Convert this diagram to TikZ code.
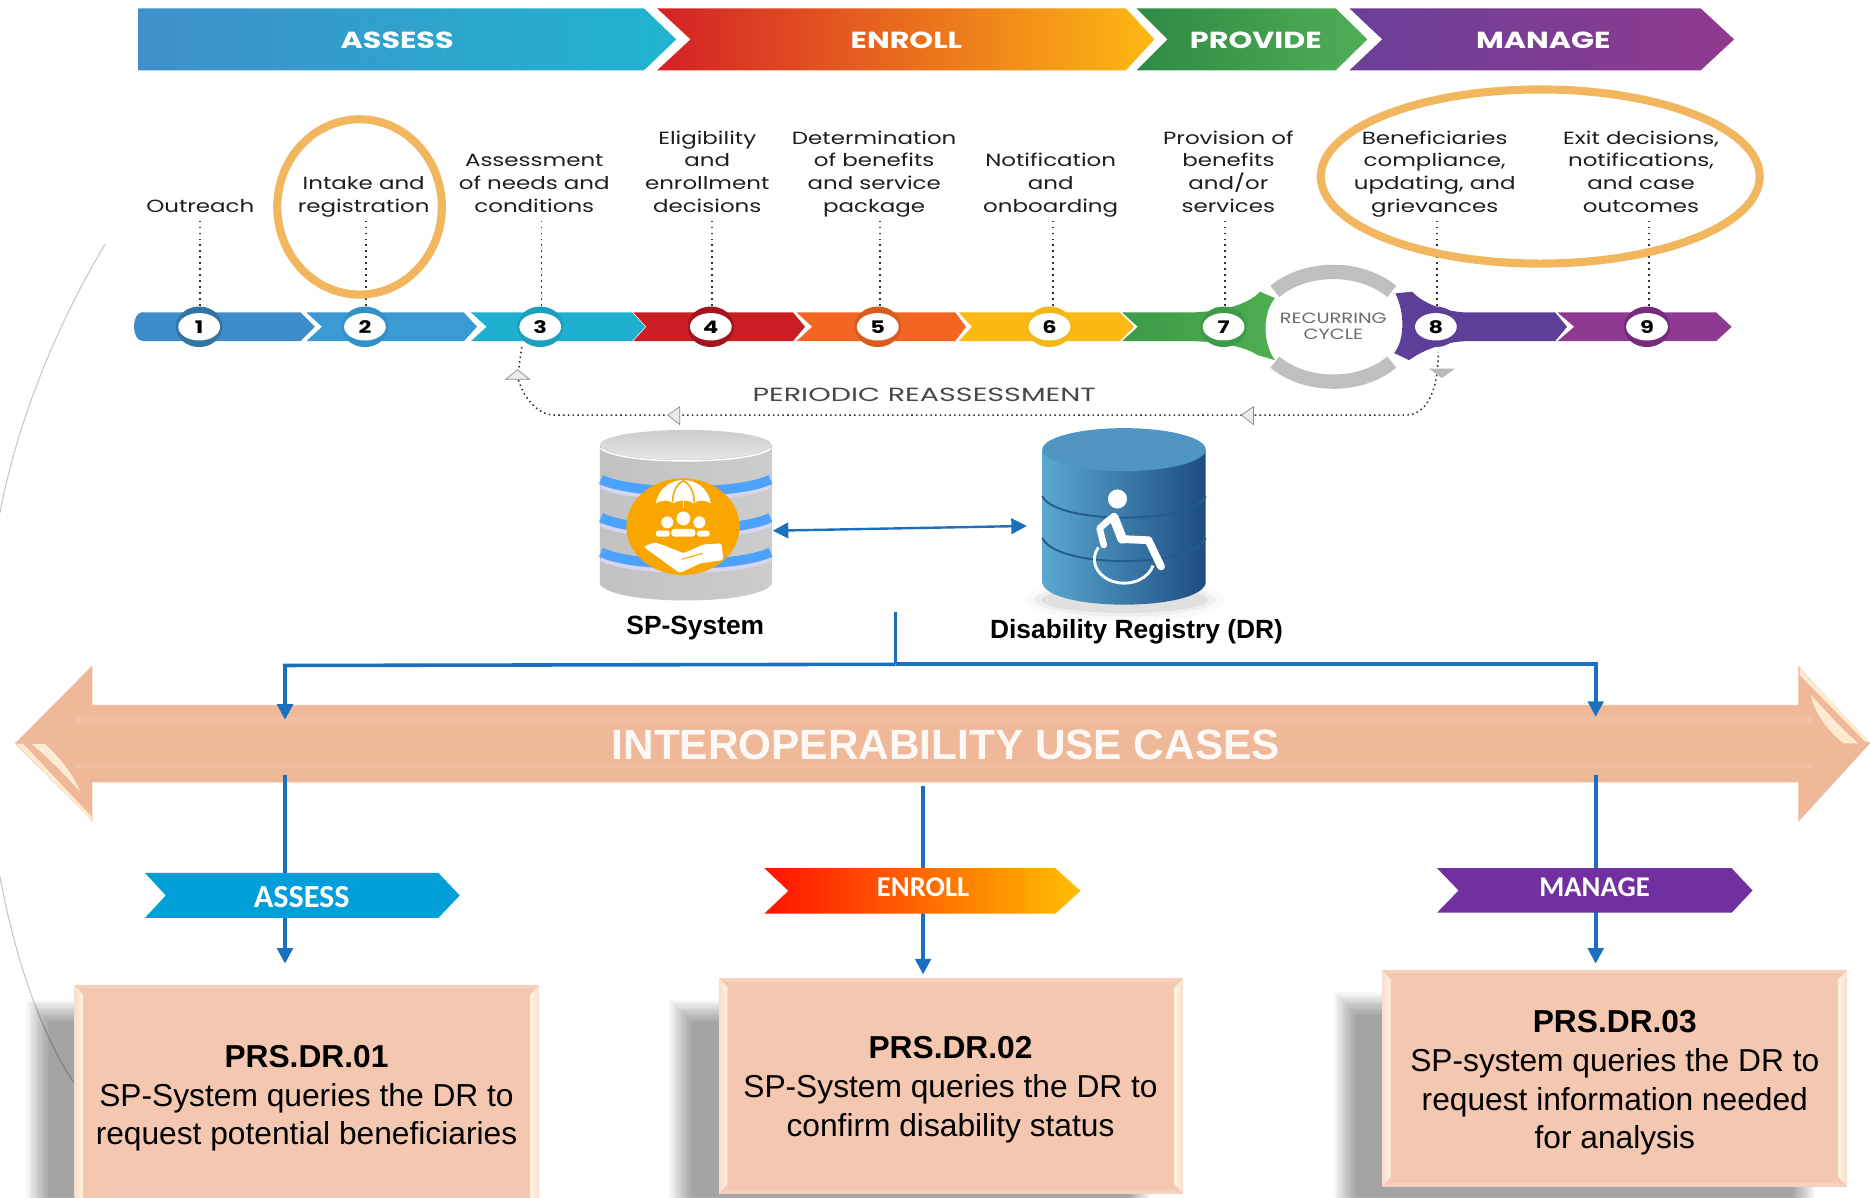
\documentclass[tikz,border=0pt]{standalone}
\usepackage{fontspec}
\setmainfont{Liberation Sans}
\newfontfamily\popw[FakeStretch=1.3]{Poppins}
\newfontfamily\popx[FakeStretch=1.5]{Poppins}
\newfontfamily\car{Carlito}
\usetikzlibrary{shapes.geometric,arrows.meta,calc}
\definecolor{flowblue}{HTML}{1A6FBF}
\definecolor{ringor}{HTML}{F2B65F}
\definecolor{salmon}{HTML}{EFB899}
\definecolor{boxfill}{HTML}{F3C7B0}
\definecolor{seglab}{HTML}{1E1E1E}
\definecolor{cream}{HTML}{FFF3DC}
\definecolor{aL}{HTML}{3F8FCB}\definecolor{aR}{HTML}{1FB5CF}
\definecolor{eL}{HTML}{D42027}\definecolor{eM}{HTML}{F0652A}\definecolor{eR}{HTML}{FDB913}
\definecolor{pL}{HTML}{2F8A45}\definecolor{pR}{HTML}{50AE55}
\definecolor{mL}{HTML}{6B3F97}\definecolor{mR}{HTML}{8F3A8F}
\definecolor{s1}{HTML}{3F8CCA}\definecolor{s2}{HTML}{3A9BD4}\definecolor{s3}{HTML}{1FB0CF}
\definecolor{s4}{HTML}{CC1F24}\definecolor{s5}{HTML}{F26522}\definecolor{s6}{HTML}{FDB913}
\definecolor{s7L}{HTML}{3D9A47}\definecolor{s7R}{HTML}{4FAE50}
\definecolor{s8}{HTML}{5D3F97}\definecolor{s9}{HTML}{8E3A92}
\definecolor{r1}{HTML}{33759F}\definecolor{r2}{HTML}{3290C8}\definecolor{r3}{HTML}{1CA0BF}
\definecolor{r4}{HTML}{A3141E}\definecolor{r5}{HTML}{D95C1F}\definecolor{r6}{HTML}{F2B818}
\definecolor{r7}{HTML}{3D9A47}\definecolor{r8}{HTML}{5D3F97}\definecolor{r9}{HTML}{752C7B}
\definecolor{spband}{HTML}{4BA3FF}\definecolor{spor}{HTML}{F9A600}\definecolor{splav}{HTML}{D6D6F2}
\definecolor{drL}{HTML}{5AA8D1}\definecolor{drM}{HTML}{3878AD}\definecolor{drR}{HTML}{1C4D80}
\definecolor{drT}{HTML}{4F94C2}\definecolor{drLine}{HTML}{245C8C}
\definecolor{tagA}{HTML}{009FD9}\definecolor{tagM}{HTML}{7030A0}
\definecolor{tE1}{HTML}{FF1200}\definecolor{tE2}{HTML}{FF6600}\definecolor{tE3}{HTML}{FFC000}
\tikzset{
 phase/.style={font=\popw\bfseries\fontsize{19.5}{22}\selectfont,text=white,inner sep=0pt},
 steplab/.style={font=\popw\fontsize{14.8}{19}\selectfont,text=seglab,align=center,inner sep=0pt,anchor=south,execute at end node={\vphantom{g}}},
 dotline/.style={line width=1.5pt,dash pattern=on 1.5pt off 3.5pt,draw=black!80},
 ringout/.style={ellipse,minimum width=39pt,minimum height=34pt,inner sep=0pt},
 ringin/.style={ellipse,fill=white,minimum width=35pt,minimum height=23pt,inner sep=0pt,font=\popw\bfseries\fontsize{14.5}{16}\selectfont},
 emph/.style={draw=ringor,line width=6.8pt},
 flow/.style={draw=flowblue,line width=3pt},
 flowtip/.style={-{Triangle[length=13pt,width=13pt]},flow},
 tagtext/.style={font=\car\bfseries\fontsize{24}{26}\selectfont,text=white,inner sep=0pt},
 caseb/.style={font=\fontsize{26.6}{32.5}\selectfont,align=center,inner sep=0pt,text=black},
 minihead/.style={draw=black!45,fill=black!8,line width=.6pt},
 dblabel/.style={font=\bfseries\fontsize{22.1}{24}\selectfont,inner sep=0pt},
}
\newcommand{\chevp}[7]{% opts x0 xn xc xt ytop ybot
 \path[#1] (#2,#6) -- (#4,#6) -- (#5,{(#6+#7)/2}) -- (#4,#7) -- (#2,#7) -- (#3,{(#6+#7)/2}) -- cycle;}
\newcommand{\softshadow}[4]{% x1 y1 x2 y2
 \foreach \k in {0,...,19}{\fill[black,opacity=.0178] ({#1+\k},{#2+\k}) rectangle ({#3-\k},{#4-\k});}}
\newcommand{\bevelbox}[4]{% x1 y1 x2 y2
 \fill[boxfill] (#1,#2) rectangle (#3,#4);
 \fill[boxfill!80!white] (#1,#2) -- (#3,#2) -- ({#3-7},{#2+3}) -- ({#1+7},{#2+3}) -- cycle;
 \shade[left color=boxfill!60!white,right color=cream] (#1,#2) -- ({#1+7},{#2+8}) -- ({#1+7},{#4-8}) -- (#1,#4) -- cycle;
 \shade[right color=boxfill!60!white,left color=cream] (#3,#2) -- ({#3-7},{#2+8}) -- ({#3-7},{#4-8}) -- (#3,#4) -- cycle;
 \fill[boxfill!80!white] (#1,#4) -- (#3,#4) -- ({#3-7},{#4-3}) -- ({#1+7},{#4-3}) -- cycle;}
\begin{document}
\begin{tikzpicture}[x=1pt,y=-1pt]
\useasboundingbox (0,0) rectangle (1568,1003.7);
\fill[white] (0,0) rectangle (1568,1003.7);
% thin background arc
\draw[black!22,line width=.9pt] (88,205) .. controls (50,268) and (15,350) .. (0,430);
\draw[black!22,line width=.9pt] (0,735) .. controls (10,790) and (30,860) .. (62,908);
% top phases
\chevp{shade,left color=aL,right color=aR}{116}{116}{540}{567}{7}{59}
\chevp{shade,left color=eL,middle color=eM,right color=eR}{551}{579}{944}{968}{7}{59}
\chevp{shade,left color=pL,right color=pR}{953}{979}{1120}{1146.5}{7}{59}
\chevp{shade,left color=mL,right color=mR}{1131.5}{1159}{1426}{1454}{7}{59}
\node[phase] (pA) at (333,33.5) {ASSESS};
\node[phase] (pE) at (760,33.5) {ENROLL};
\node[phase] (pP) at (1053,33.5) {PROVIDE};
\node[phase] (pM) at (1294,33.5) {MANAGE};
% step labels
\node[steplab] (l1) at (168,182) {Outreach};
\node[steplab] (l2) at (305,182) {Intake and\\registration};
\node[steplab] (l3) at (448,182) {Assessment\\of needs and\\conditions};
\node[steplab] (l4) at (593,182) {Eligibility\\and\\enrollment\\decisions};
\node[steplab] (l5) at (733,182) {Determination\\of benefits\\and service\\package};
\node[steplab] (l6) at (881,182) {Notification\\and\\onboarding};
\node[steplab] (l7) at (1030,182) {Provision of\\benefits\\and/or\\services};
\node[steplab] (l8) at (1203,182) {Beneficiaries\\compliance,\\updating, and\\grievances};
\node[steplab] (l9) at (1376,182) {Exit decisions,\\notifications,\\and case\\outcomes};
% recurring cycle arcs
\draw[black!25,line width=12pt] ($(1118,274)+(40:64pt and 46pt)$) arc[start angle=40,end angle=140,x radius=64pt,y radius=46pt];
\draw[black!25,line width=12pt] ($(1118,274)+(220:64pt and 46pt)$) arc[start angle=220,end angle=320,x radius=64pt,y radius=46pt];
% process segments
\chevp{fill=s1}{120}{120}{252}{264}{262}{286}
\fill[s1] (120,262) .. controls (110,262) and (110,286) .. (120,286) -- cycle;
\chevp{fill=s2}{257}{270}{389}{400}{262}{286}
\chevp{fill=s3}{395}{408}{530}{541}{262}{286}
\chevp{fill=s4}{531}{542}{665}{675}{262}{286}
\chevp{fill=s5}{668}{681}{801}{810}{262}{286}
\chevp{fill=s6}{804}{815}{939}{951}{262}{286}
\shade[left color=s7L,right color=s7R]
 (941,262) -- (995,262) .. controls (1022,262) and (1046,256) .. (1056.5,244.6) -- (1069,250)
 .. controls (1059,262) and (1058,286) .. (1069,302) -- (1054,297.6)
 .. controls (1045,291) and (1022,286) .. (995,286) -- (941,286) -- (954,274) -- cycle;
\fill[s8] (1170,246) -- (1184,244.6) .. controls (1195,256) and (1215,262) .. (1231.5,262)
 -- (1304,262) -- (1314,274) -- (1304,286) -- (1231.5,286) .. controls (1215,286) and (1195,292) .. (1181.5,302)
 -- (1169,296) .. controls (1178,285) and (1178,262) .. (1170,246) -- cycle;
\chevp{fill=s9}{1306}{1320}{1439}{1452}{262}{286}
% circles
\node[ringout,fill=r1] (o1) at (167,274) {};
\node[ringout,fill=r2] (o2) at (306,274) {};
\node[ringout,fill=r3] (o3) at (453,274) {};
\node[ringout,fill=r4] (o4) at (596,274) {};
\node[ringout,fill=r5] (o5) at (736,274) {};
\node[ringout,fill=r6] (o6) at (880,274) {};
\node[ringout,fill=r7] (o7) at (1026,274) {};
\node[ringout,fill=r8] (o8) at (1204,274) {};
\node[ringout,fill=r9] (o9) at (1381,274) {};
\node[ringin] (n1) at (167,274) {1};
\node[ringin] (n2) at (306,274) {2};
\node[ringin] (n3) at (453,274) {3};
\node[ringin] (n4) at (596,274) {4};
\node[ringin] (n5) at (736,274) {5};
\node[ringin] (n6) at (880,274) {6};
\node[ringin] (n7) at (1026,274) {7};
\node[ringin] (n8) at (1204,274) {8};
\node[ringin] (n9) at (1381,274) {9};
\node[font=\popw\fontsize{12.5}{13}\selectfont,text=black!58,align=center,inner sep=0pt] (rc) at (1118,273.5) {RECURRING\\CYCLE};
% dotted leaders
\foreach \i/\x in {1/168,2/307,3/454,4/597,5/738,6/883,7/1027,8/1205,9/1383}{
 \coordinate (d\i) at (\x,185);
 \coordinate (e\i) at (\x,258);
 \draw[dotline] (d\i) -- (e\i);
}
% periodic reassessment
\coordinate (pa) at (437.5,291);
\coordinate (pb) at (1206,295);
\draw[dotline,line width=1.3pt,dash pattern=on 1.3pt off 2.7pt] (pa) -- (434,316) .. controls (438,332) and (450,348) .. (465,348) -- (1179,348) .. controls (1195,348) and (1206,330) .. (pb);
\path[minihead] (424,318) -- (434,310) -- (444,318) -- cycle;
\path[minihead] (560,348) -- (570,341) -- (570,356) -- cycle;
\path[minihead] (1041,348) -- (1051,341) -- (1051,356) -- cycle;
\fill[black!28] (1198,309) -- (1220,309) -- (1209,317) -- cycle;
\node[font=\popx\fontsize{16}{18}\selectfont,text=black!72,inner sep=0pt] (pr) at (775,331) {PERIODIC REASSESSMENT};
% emphasis ellipses
\draw[emph] (301.5,173.5) ellipse[x radius=69pt,y radius=73.5pt];
\draw[emph] (1291.5,148) ellipse[x radius=184pt,y radius=73pt];
% SP system database
\shade[left color=black!24,middle color=black!2,right color=black!20] (503,373) -- (503,490) .. controls (515,508) and (635,508) .. (647,490) -- (647,373) -- cycle;
\shade[top color=black!20,bottom color=black!10] (575,373) ellipse[x radius=72pt,y radius=12.5pt];
\draw[white,line width=1.2pt] (503.5,376) .. controls (520,390) and (630,390) .. (646.5,376);
\foreach \yy in {402,434,463}{
 \draw[splav,line width=3pt] (504,{\yy+6}) .. controls (530,{\yy+19}) and (620,{\yy+19}) .. (646,{\yy+6});
 \draw[spband,line width=8pt] (504,\yy) .. controls (530,{\yy+13}) and (620,{\yy+13}) .. (646,\yy);
}
\node[ellipse,fill=spor,minimum width=95pt,minimum height=81pt,inner sep=0pt] (sp) at (572.7,441.6) {};
% umbrella
\fill[white] (550,422) .. controls (552,409) and (563,402.5) .. (573,402.5) .. controls (583,402.5) and (594,409) .. (596,422)
 .. controls (591,419) and (586,419) .. (581,422) .. controls (578,419) and (568,419) .. (565,422) .. controls (560,419) and (555,419) .. (550,422) -- cycle;
\draw[spor,line width=1.3pt] (573,403) .. controls (566,407) and (564,414) .. (564,421);
\draw[spor,line width=1.3pt] (573,403) .. controls (580,407) and (582,414) .. (582,421);
\draw[white,line width=1.4pt] (573,418) -- (573,426);
% people
\fill[white] (573,434.7) ellipse[x radius=5.8pt,y radius=5.8pt];
\fill[white] (559.5,438) ellipse[x radius=5pt,y radius=5pt];
\fill[white] (586.4,438) ellipse[x radius=5pt,y radius=5pt];
\fill[white,rounded corners=2.5pt] (563,450) -- (563,443.5) -- (583,443.5) -- (583,450) -- cycle;
\fill[white,rounded corners=2pt] (550,450) -- (550,445) -- (561.5,445) -- (561.5,450) -- cycle;
\fill[white,rounded corners=2pt] (584.5,450) -- (584.5,445) -- (595,445) -- (595,450) -- cycle;
% hand
\fill[white,rounded corners=1.5pt] (539.4,458.4) -- (549,454.8) -- (562,459) -- (573,464) -- (590,456.5) -- (605,455.6) -- (606.5,469.6) -- (587,472.4) -- (570,480.5) -- cycle;
\draw[spor,line width=.9pt] (560.5,458.5) -- (573,462.5);
\draw[spor,line width=.9pt] (571.5,469) -- (589,464);
% DR database
\fill[black,opacity=.025] (943,503) ellipse[x radius=84pt,y radius=18pt];
\fill[black,opacity=.04] (943,503) ellipse[x radius=76pt,y radius=14pt];
\fill[black,opacity=.06] (943,503) ellipse[x radius=70pt,y radius=11pt];
\shade[left color=drL,middle color=drM,right color=drR] (874,377) -- (874,489) .. controls (880,513) and (1005,513) .. (1011,489) -- (1011,377) -- cycle;
\fill[drT] (942.5,377) ellipse[x radius=68.5pt,y radius=18pt];
\draw[drLine,line width=1.6pt] (874,416) .. controls (885,440) and (1000,440) .. (1011,416);
\draw[drLine,line width=1.6pt] (874,451) .. controls (885,477) and (1000,477) .. (1011,451);
% wheelchair
\fill[white] (937,418.4) ellipse[x radius=8pt,y radius=8pt];
\draw[white,line width=8pt,line join=round,line cap=round] (934,434) -- (941,452);
\draw[white,line width=6.5pt,line join=round,line cap=round] (941,452) -- (963,453) -- (973.5,475);
\draw[white,line width=5.5pt,line join=round,line cap=round] (931,435) -- (922,443) -- (925.5,457);
\draw[white,line width=2.4pt] (921,459) arc[start angle=150,end angle=345,x radius=25pt,y radius=20pt];
% interconnection
\coordinate (spR) at (648,445);
\coordinate (drG) at (861,441);
\draw[{Triangle[length=13pt,width=13pt]}-{Triangle[length=13pt,width=13pt]},flow,line width=2pt] (spR) -- (drG);
\node[dblabel] (spl) at (583,527) {SP-System};
\node[dblabel] (drl) at (953,530) {Disability Registry (DR)};
% big double arrow
\fill[salmon] (12.6,623.3) -- (77.5,558) -- (77.5,591) -- (1508,591) -- (1508,558.4) -- (1568,623.3) -- (1508,689) -- (1508,656) -- (77.5,656) -- (77.5,689) -- cycle;
\fill[salmon!90!white] (63,601) rectangle (1520,606);
\fill[salmon!90!white] (63,641.4) rectangle (1520,644);
\fill[salmon!85!white] (77.5,591) rectangle (1508,592);
\fill[cream,opacity=.85] (26.5,623.8) -- (37.7,623.8) .. controls (50,635) and (62,650) .. (67,663.8) .. controls (55,650) and (40,635) .. (26.5,623.8) -- cycle;
\fill[cream,opacity=.85] (14,623.8) -- (19.5,623.8) -- (76.9,684.8) -- (76.9,689) -- cycle;
\fill[cream,opacity=.85] (1518.3,582.7) .. controls (1522,600) and (1535,615) .. (1546,623.3) -- (1558.3,623.3) .. controls (1545,612) and (1530,595) .. (1518.3,582.7) -- cycle;
\fill[cream,opacity=.85] (1509,560) -- (1568,621.5) -- (1564,622) -- (1509,566) -- cycle;
\node[font=\bfseries\fontsize{35.5}{38}\selectfont,text=white!92!salmon,inner sep=0pt] (iu) at (793,625) {INTEROPERABILITY USE CASES};
% trunk and down arrows
\coordinate (tr) at (751,513);
\coordinate (tj) at (751,557);
\coordinate (tl) at (239,558);
\coordinate (tk) at (1338,557);
\coordinate (ta) at (239,603.5);
\coordinate (tm) at (1338,601);
\draw[flow] (tr) -- (tj);
\draw[flowtip] (tj) -- (tl) -- (ta);
\draw[flowtip] (tj) -- (tk) -- (tm);
\coordinate (a1) at (239,650); \coordinate (a1e) at (239,808);
\coordinate (a2) at (774,659); \coordinate (a2e) at (774,817);
\coordinate (a3) at (1338,650); \coordinate (a3e) at (1338,808);
\draw[flowtip] (a1) -- (a1e);
\draw[flowtip] (a2) -- (a2e);
\draw[flowtip] (a3) -- (a3e);
% tags
\chevp{fill=tagA}{121.6}{139}{367.6}{385.5}{732}{769.6}
\chevp{shade,left color=tE1,middle color=tE2,right color=tE3}{641}{661}{885}{906}{728}{766}
\chevp{fill=tagM}{1205}{1223}{1452}{1469.5}{728}{765.3}
\node[tagtext,font=\car\bfseries\fontsize{27}{28}\selectfont] (tA) at (253,752) {ASSESS};
\node[tagtext] (tE) at (774,744) {ENROLL};
\node[tagtext] (tM) at (1337,744) {MANAGE};
% boxes
\softshadow{22}{838}{425}{1040}
\softshadow{561}{838}{965}{1030}
\softshadow{1118}{832}{1522}{1030}
\bevelbox{62.5}{825.8}{451.8}{1020}
\bevelbox{603}{820}{992}{1001}
\bevelbox{1159}{813.2}{1548.7}{995}
\node[caseb] (b1) at (257,921) {\textbf{PRS.DR.01}\\SP-System queries the DR to\\request potential beneficiaries};
\node[caseb] (b2) at (797,913.5) {\textbf{PRS.DR.02}\\SP-System queries the DR to\\confirm disability status};
\node[caseb] (b3) at (1354,908) {\textbf{PRS.DR.03}\\SP-system queries the DR to\\request information needed\\for analysis};
\end{tikzpicture}
\end{document}
